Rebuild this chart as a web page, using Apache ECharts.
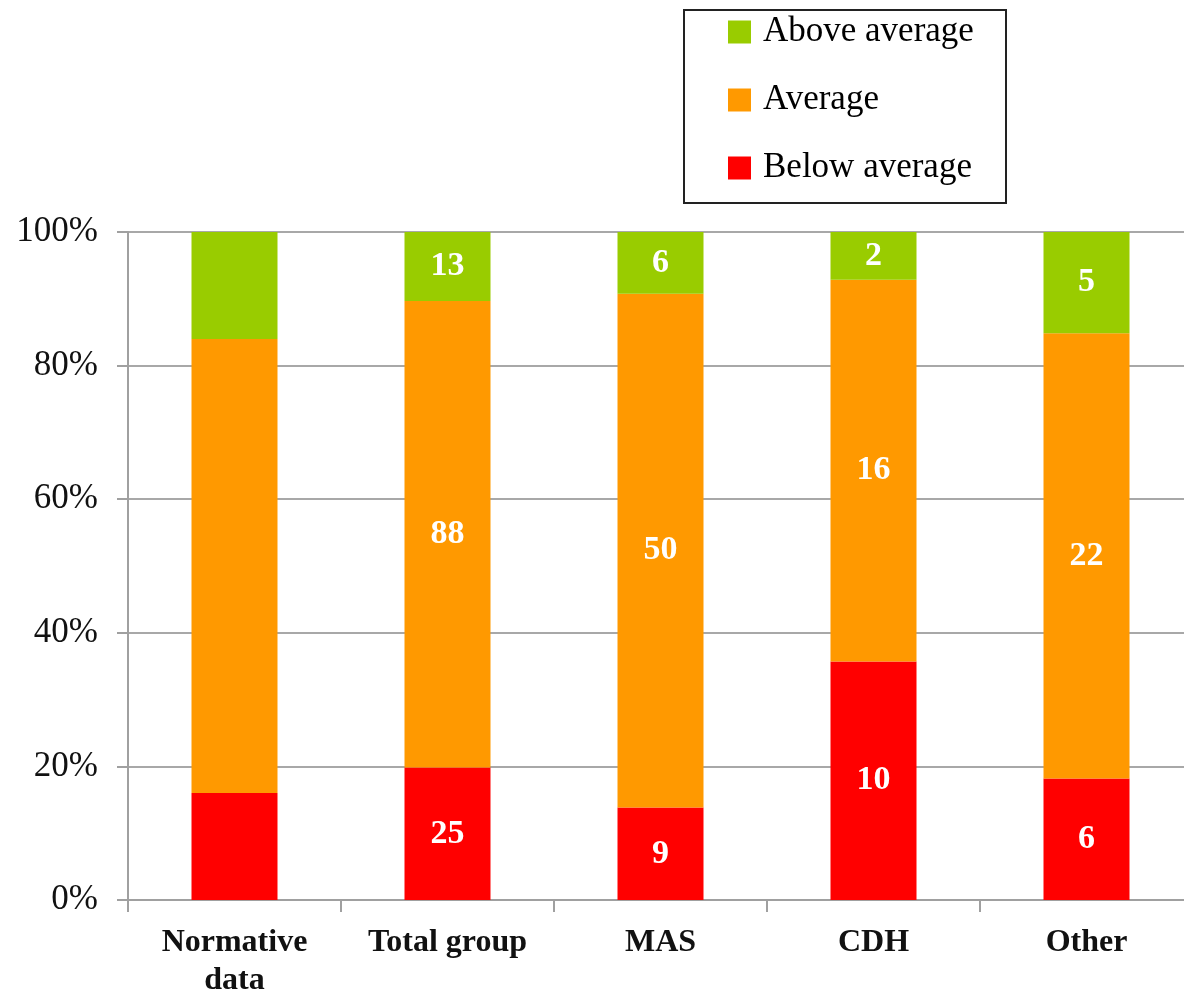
<!DOCTYPE html>
<html>
<head>
<meta charset="utf-8">
<style>
  html, body { margin: 0; padding: 0; background: #ffffff; }
  #chart { width: 1184px; height: 998px; }
</style>
<script src="https://cdn.jsdelivr.net/npm/echarts@6/dist/echarts.min.js"></script>
</head>
<body>
<div id="chart"></div>
<script>
// Groups along the x axis
const categories = ['Normative\ndata', 'Total group', 'MAS', 'CDH', 'Other'];

// Patient counts per performance band (normative data has no counts)
const belowCounts   = [null, 25, 9, 10, 6];
const averageCounts = [null, 88, 50, 16, 22];
const aboveCounts   = [null, 13, 6, 2, 5];

// Normative distribution in percent: below, average, above
const normativeShares = [16, 68, 16];

// Y axis tick labels
const yTicks = ['0%', '20%', '40%', '60%', '80%', '100%'];

const COLORS = { below: '#ff0000', average: '#ff9900', above: '#99cc00' };
const FONT = 'Liberation Serif, Times New Roman, serif';

// Turn counts into shares of each group's total; keep the count for the label
function shares(counts, normIndex) {
  return counts.map((c, i) => {
    if (c === null) return { value: normativeShares[normIndex], count: null };
    const total = belowCounts[i] + averageCounts[i] + aboveCounts[i];
    return { value: c / total * 100, count: c };
  });
}

const labelStyle = {
  show: true,
  position: 'inside',
  color: '#ffffff',
  fontFamily: FONT,
  fontWeight: 'bold',
  fontSize: 34,
  formatter: p => (p.data.count === null ? '' : String(p.data.count))
};

function barSeries(name, data, color) {
  return {
    name: name,
    type: 'bar',
    stack: 'share',
    barWidth: 86,
    data: data,
    itemStyle: { color: color },
    label: labelStyle,
    emphasis: { disabled: true }
  };
}

const chart = echarts.init(document.getElementById('chart'), null, { renderer: 'canvas' });

chart.setOption({
  animation: false,
  backgroundColor: '#ffffff',
  textStyle: { fontFamily: FONT },
  grid: {
    left: 128, top: 232, right: -9, bottom: 98,
    containLabel: false,
    outerBoundsMode: 'none'
  },
  legend: {
    orient: 'vertical',
    left: 728,
    top: 12,
    padding: 0,
    itemWidth: 23,
    itemHeight: 23,
    itemGap: 28,
    icon: 'rect',
    selectedMode: false,
    data: ['Above average', 'Average', 'Below average'],
    textStyle: {
      fontFamily: FONT,
      fontSize: 35,
      color: '#000000',
      lineHeight: 40,
      padding: [0, 0, 0, 7]
    }
  },
  graphic: [{
    type: 'rect',
    shape: { x: 684, y: 10, width: 322, height: 193 },
    style: { fill: 'none', stroke: '#222222', lineWidth: 2 },
    silent: true
  }],
  xAxis: {
    type: 'category',
    data: categories,
    axisLine: { lineStyle: { color: '#a0a0a0', width: 2 } },
    axisTick: { show: true, length: 12, lineStyle: { color: '#a0a0a0', width: 2 } },
    axisLabel: {
      color: '#111111',
      fontFamily: FONT,
      fontWeight: 'bold',
      fontSize: 32,
      lineHeight: 38,
      margin: 24,
      interval: 0
    }
  },
  yAxis: {
    type: 'value',
    min: 0,
    max: 100,
    interval: 20,
    axisLine: { show: true, lineStyle: { color: '#a0a0a0', width: 2 } },
    axisTick: { show: true, length: 11, lineStyle: { color: '#a0a0a0', width: 2 } },
    splitLine: { show: true, lineStyle: { color: '#a8a8a8', width: 2 } },
    axisLabel: {
      color: '#111111',
      fontFamily: FONT,
      fontSize: 35,
      margin: 30,
      formatter: v => yTicks[Math.round(v / 20)]
    }
  },
  series: [
    barSeries('Below average', shares(belowCounts, 0), COLORS.below),
    barSeries('Average', shares(averageCounts, 1), COLORS.average),
    barSeries('Above average', shares(aboveCounts, 2), COLORS.above)
  ]
});
</script>
</body>
</html>
